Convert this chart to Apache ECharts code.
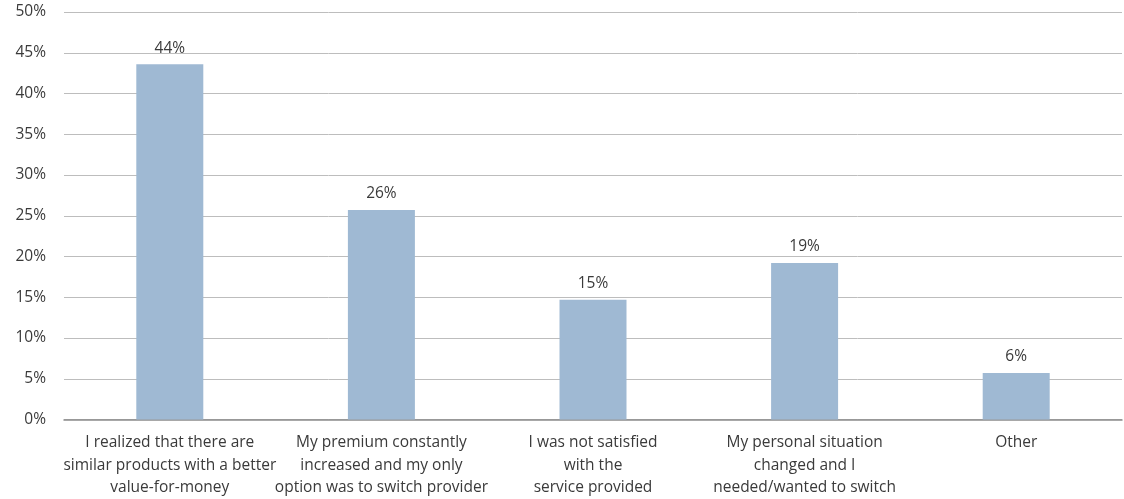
<!DOCTYPE html>
<html>
<head>
<meta charset="utf-8">
<script src="https://cdn.jsdelivr.net/npm/echarts@6/dist/echarts.min.js"></script>
<style>html,body{margin:0;padding:0;background:#fff}#c{width:1124px;height:499px}</style>
</head>
<body>
<div id="c"></div>
<script>
var categories = [
  "I realized that there are\nsimilar products with a better\nvalue-for-money",
  "My premium constantly\nincreased and my only\noption was to switch provider",
  "I was not satisfied\nwith the\nservice provided",
  "My personal situation\nchanged and I\nneeded/wanted to switch",
  "Other"
];
var values = [43.6, 25.7, 14.7, 19.2, 5.7];
var valueLabels = ["44%", "26%", "15%", "19%", "6%"];

var chart = echarts.init(document.getElementById('c'));
chart.setOption({
  animation: false,
  textStyle: { fontFamily: "Open Sans" },
  grid: { left: 64, right: 2, top: 12, bottom: 79, containLabel: false },
  xAxis: {
    type: 'category',
    data: categories,
    axisTick: { show: false },
    axisLine: { lineStyle: { color: '#8c8c8c', width: 1.5 } },
    axisLabel: { color: '#3a3a3a', fontSize: 15.5, lineHeight: 22.5, margin: 12, interval: 0, fontFamily: "Open Sans" }
  },
  yAxis: {
    type: 'value',
    min: 0, max: 50, interval: 5,
    axisLine: { show: false },
    axisTick: { show: false },
    splitLine: { lineStyle: { color: '#bdbdbd', width: 1 } },
    axisLabel: { color: '#3a3a3a', fontSize: 15.5, margin: 18, formatter: '{value}%', fontFamily: "Open Sans" }
  },
  series: [{
    type: 'bar',
    data: values,
    barWidth: 67,
    itemStyle: { color: '#9fb9d3' },
    label: {
      show: true, position: 'top', distance: 8,
      color: '#3a3a3a', fontSize: 15.5, fontFamily: "Open Sans",
      formatter: function (p) { return valueLabels[p.dataIndex]; }
    }
  }]
});
</script>
</body>
</html>
